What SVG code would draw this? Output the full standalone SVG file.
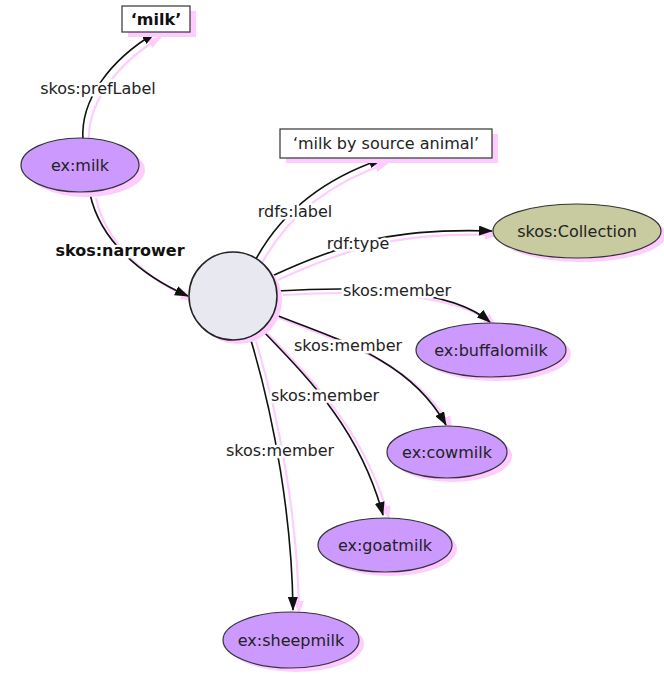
<svg xmlns="http://www.w3.org/2000/svg" width="664" height="674" viewBox="0 0 664 674">
<style>
text{font-family:"DejaVu Sans",Verdana,sans-serif;font-size:16px;fill:#222;text-anchor:middle;dominant-baseline:central}
.lbl{stroke:#fff;stroke-width:5px;paint-order:stroke;stroke-linejoin:round}
.bold{font-weight:bold;fill:#111}
.edge{fill:none;stroke:#111;stroke-width:1.6}
.eshadow{fill:none;stroke:#ffccff;stroke-width:2.2}
.shadow{fill:#ffccff;stroke:none}
.res{fill:#cc99ff;stroke:#333;stroke-width:1.2}
.cls{fill:#c8caa0;stroke:#333;stroke-width:1.2}
.blank{fill:#e8e8f0;stroke:#222;stroke-width:1.5}
.lit{fill:#fff;stroke:#333;stroke-width:1.2}
</style>
<defs>
<marker id="arr" markerWidth="14" markerHeight="10" refX="13" refY="5" orient="auto" markerUnits="userSpaceOnUse">
<path d="M0,0 L14,5 L0,10 Z" fill="#111"/>
</marker>
<marker id="arrs" markerWidth="14" markerHeight="10" refX="13" refY="5" orient="auto" markerUnits="userSpaceOnUse">
<path d="M0,0 L14,5 L0,10 Z" fill="#ffccff"/>
</marker>
</defs>
<g id="connector-shadows" transform="translate(6,4)">
<path class="eshadow" d="M83 140 C80 100 110 60 155 33" marker-end="url(#arrs)"/>
<path class="eshadow" d="M90 194 C100 240 140 275 188 296" marker-end="url(#arrs)"/>
<path class="eshadow" d="M256 259 C280 215 320 180 382 159" marker-end="url(#arrs)"/>
<path class="eshadow" d="M272 276 C350 240 400 228 492 231" marker-end="url(#arrs)"/>
<path class="eshadow" d="M277 291 C360 286 450 288 490 322" marker-end="url(#arrs)"/>
<path class="eshadow" d="M273 314 C340 340 410 360 446 425" marker-end="url(#arrs)"/>
<path class="eshadow" d="M262 330 C310 380 360 430 383 515" marker-end="url(#arrs)"/>
<path class="eshadow" d="M250 337 C275 420 292 520 293 610" marker-end="url(#arrs)"/>
</g>
<g id="connectors">
<path class="edge" d="M83 140 C80 100 110 60 155 33" marker-end="url(#arr)"/>
<path class="edge" d="M90 194 C100 240 140 275 188 296" marker-end="url(#arr)"/>
<path class="edge" d="M256 259 C280 215 320 180 382 159" marker-end="url(#arr)"/>
<path class="edge" d="M272 276 C350 240 400 228 492 231" marker-end="url(#arr)"/>
<path class="edge" d="M277 291 C360 286 450 288 490 322" marker-end="url(#arr)"/>
<path class="edge" d="M273 314 C340 340 410 360 446 425" marker-end="url(#arr)"/>
<path class="edge" d="M262 330 C310 380 360 430 383 515" marker-end="url(#arr)"/>
<path class="edge" d="M250 337 C275 420 292 520 293 610" marker-end="url(#arr)"/>
<text class="lbl" x="98" y="88">skos:prefLabel</text>
<text class="lbl bold" x="120" y="250">skos:narrower</text>
<text class="lbl" x="295" y="211">rdfs:label</text>
<text class="lbl" x="358" y="243">rdf:type</text>
<text class="lbl" x="397" y="290">skos:member</text>
<text class="lbl" x="348" y="345">skos:member</text>
<text class="lbl" x="325" y="395">skos:member</text>
<text class="lbl" x="280" y="450">skos:member</text>
</g>
<g id="milk-literal">
<rect class="shadow" x="128" y="11" width="68" height="26"/>
<rect class="lit" x="122" y="6" width="68" height="26"/>
<text class="bold" x="156" y="19">‘milk’</text>
</g>
<g id="ex-milk">
<ellipse class="shadow" cx="86" cy="170" rx="59" ry="27"/>
<ellipse class="res" cx="80" cy="165" rx="59" ry="27"/>
<text x="80" y="165">ex:milk</text>
</g>
<g id="blank-node">
<circle class="shadow" cx="238" cy="300" r="44"/>
<circle class="blank" cx="233" cy="296" r="44"/>
</g>
<g id="label-literal">
<rect class="shadow" x="286" y="134" width="212" height="29"/>
<rect class="lit" x="280" y="129" width="212" height="29"/>
<text x="386" y="143">‘milk by source animal’</text>
</g>
<g id="skos-collection">
<ellipse class="shadow" cx="582" cy="235" rx="84" ry="27"/>
<ellipse class="cls" cx="577" cy="231" rx="84" ry="27"/>
<text x="577" y="231">skos:Collection</text>
</g>
<g id="ex-buffalomilk">
<ellipse class="shadow" cx="496" cy="354" rx="75" ry="27"/>
<ellipse class="res" cx="491" cy="350" rx="75" ry="27"/>
<text x="491" y="350">ex:buffalomilk</text>
</g>
<g id="ex-cowmilk">
<ellipse class="shadow" cx="452" cy="456" rx="60" ry="26"/>
<ellipse class="res" cx="447" cy="452" rx="60" ry="26"/>
<text x="447" y="452">ex:cowmilk</text>
</g>
<g id="ex-goatmilk">
<ellipse class="shadow" cx="390" cy="549" rx="67" ry="27"/>
<ellipse class="res" cx="385" cy="545" rx="67" ry="27"/>
<text x="385" y="545">ex:goatmilk</text>
</g>
<g id="ex-sheepmilk">
<ellipse class="shadow" cx="296" cy="644" rx="68" ry="28"/>
<ellipse class="res" cx="291" cy="640" rx="68" ry="28"/>
<text x="291" y="640">ex:sheepmilk</text>
</g>
</svg>
